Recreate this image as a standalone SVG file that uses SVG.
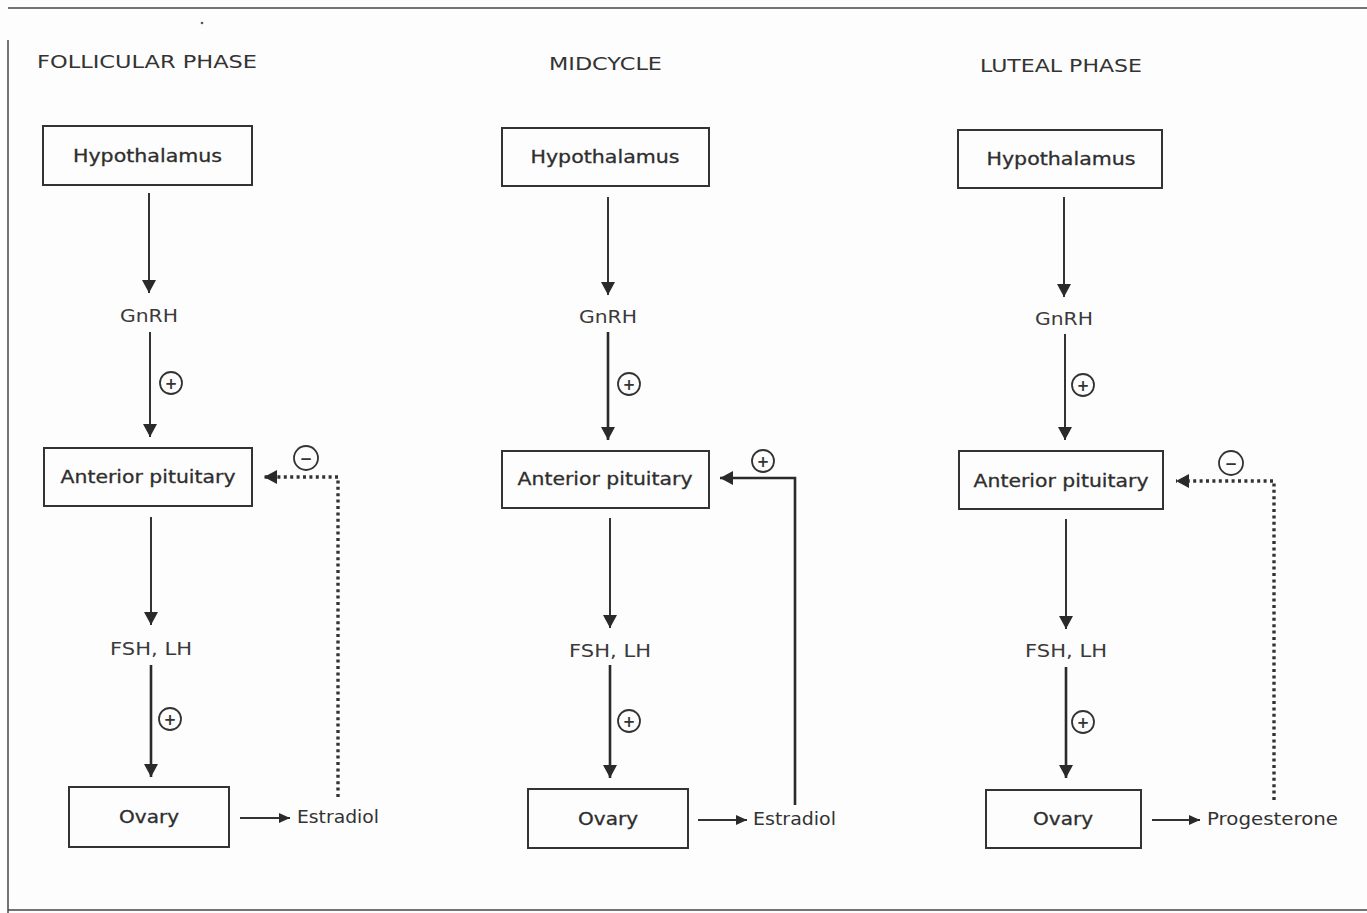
<svg xmlns="http://www.w3.org/2000/svg" width="1367" height="913" viewBox="0 0 1367 913">
<defs>
<style>
text{font-family:"DejaVu Sans","Liberation Sans",Arial,sans-serif;fill:#2e2e2e}
.hd{font-size:18px;fill:#333}
.nd{font-size:18px;text-anchor:middle;stroke:#2e2e2e;stroke-width:0.3}
.lb{font-size:18px;text-anchor:middle;fill:#3a3a3a}
.hm{font-size:18px;fill:#333}
.box{fill:none;stroke:#333;stroke-width:2}
.ln{fill:none;stroke:#333;stroke-width:2}
.lnb{fill:none;stroke:#2a2a2a;stroke-width:2.6}
.dot{fill:none;stroke:#333;stroke-width:3.4;stroke-dasharray:3 3.4}
.cir{fill:none;stroke:#333;stroke-width:1.8}
.sg{font-size:15px;text-anchor:middle;font-weight:bold;fill:#333}
.frame{fill:none;stroke:#444;stroke-width:1.5}
</style>
<marker id="ah" markerUnits="userSpaceOnUse" markerWidth="16" markerHeight="14" refX="13" refY="7" orient="auto">
<path d="M0,0 L13,7 L0,14 Z" fill="#2a2a2a"/>
</marker>
<marker id="as" markerUnits="userSpaceOnUse" markerWidth="12" markerHeight="10" refX="11" refY="5" orient="auto">
<path d="M0,0 L11,5 L0,10 Z" fill="#2a2a2a"/>
</marker>
</defs>
<rect x="0" y="0" width="1367" height="913" fill="#fdfdfd"/>
<g id="frame">
<line class="frame" x1="8" y1="8" x2="1367" y2="8"/>
<line class="frame" x1="8" y1="40" x2="8" y2="913"/>
<line class="frame" x1="8" y1="910" x2="1367" y2="910"/>
<circle cx="202" cy="23" r="1.3" fill="#555"/>
</g>
<g id="headers">
<text class="hd" x="37" y="68" textLength="220" lengthAdjust="spacingAndGlyphs">FOLLICULAR PHASE</text>
<text class="hd" x="549" y="70" textLength="113" lengthAdjust="spacingAndGlyphs">MIDCYCLE</text>
<text class="hd" x="980" y="72" textLength="162" lengthAdjust="spacingAndGlyphs">LUTEAL PHASE</text>
</g>
<g id="connectors">
<line class="ln" x1="149" y1="193" x2="149" y2="293" marker-end="url(#ah)"/>
<line class="ln" x1="150" y1="332" x2="150" y2="437" marker-end="url(#ah)"/>
<line class="ln" x1="151" y1="517" x2="151" y2="625" marker-end="url(#ah)"/>
<line class="lnb" x1="151" y1="665" x2="151" y2="777" marker-end="url(#ah)"/>
<line class="ln" x1="240" y1="818" x2="290" y2="818" marker-end="url(#as)"/>
<polyline class="dot" points="338,797 338,477 264,477" marker-end="url(#ah)"/>

<line class="ln" x1="608" y1="197" x2="608" y2="295" marker-end="url(#ah)"/>
<line class="lnb" x1="608" y1="332" x2="608" y2="440" marker-end="url(#ah)"/>
<line class="ln" x1="610" y1="518" x2="610" y2="628" marker-end="url(#ah)"/>
<line class="lnb" x1="610" y1="665" x2="610" y2="778" marker-end="url(#ah)"/>
<line class="ln" x1="698" y1="820" x2="747" y2="820" marker-end="url(#as)"/>
<polyline class="lnb" points="795,805 795,478 720,478" marker-end="url(#ah)"/>

<line class="ln" x1="1064" y1="197" x2="1064" y2="297" marker-end="url(#ah)"/>
<line class="ln" x1="1065" y1="334" x2="1065" y2="440" marker-end="url(#ah)"/>
<line class="ln" x1="1066" y1="519" x2="1066" y2="629" marker-end="url(#ah)"/>
<line class="lnb" x1="1066" y1="667" x2="1066" y2="778" marker-end="url(#ah)"/>
<line class="ln" x1="1152" y1="820" x2="1200" y2="820" marker-end="url(#as)"/>
<polyline class="dot" points="1274,800 1274,481 1176,481" marker-end="url(#ah)"/>
</g>
<g id="signs">
<circle class="cir" cx="171" cy="383" r="11"/><text class="sg" x="171" y="388.5">+</text>
<circle class="cir" cx="306" cy="458" r="12"/><text class="sg" x="306" y="463.5">−</text>
<circle class="cir" cx="170" cy="719" r="11"/><text class="sg" x="170" y="724.5">+</text>
<circle class="cir" cx="629" cy="384" r="11"/><text class="sg" x="629" y="389.5">+</text>
<circle class="cir" cx="763" cy="461" r="11"/><text class="sg" x="763" y="466.5">+</text>
<circle class="cir" cx="629" cy="721" r="11"/><text class="sg" x="629" y="726.5">+</text>
<circle class="cir" cx="1083" cy="385" r="11"/><text class="sg" x="1083" y="390.5">+</text>
<circle class="cir" cx="1231" cy="463" r="12"/><text class="sg" x="1231" y="468.5">−</text>
<circle class="cir" cx="1083" cy="722" r="11"/><text class="sg" x="1083" y="727.5">+</text>
</g>
<g id="labels">
<text class="lb" x="149" y="322" textLength="58" lengthAdjust="spacingAndGlyphs">GnRH</text>
<text class="lb" x="151" y="655" textLength="82" lengthAdjust="spacingAndGlyphs">FSH, LH</text>
<text class="hm" x="297" y="823" textLength="82" lengthAdjust="spacingAndGlyphs">Estradiol</text>
<text class="lb" x="608" y="323" textLength="58" lengthAdjust="spacingAndGlyphs">GnRH</text>
<text class="lb" x="610" y="657" textLength="82" lengthAdjust="spacingAndGlyphs">FSH, LH</text>
<text class="hm" x="753" y="825" textLength="83" lengthAdjust="spacingAndGlyphs">Estradiol</text>
<text class="lb" x="1064" y="325" textLength="58" lengthAdjust="spacingAndGlyphs">GnRH</text>
<text class="lb" x="1066" y="657" textLength="82" lengthAdjust="spacingAndGlyphs">FSH, LH</text>
<text class="hm" x="1207" y="825" textLength="131" lengthAdjust="spacingAndGlyphs">Progesterone</text>
</g>
<g id="follicular-hypothalamus"><rect class="box" x="43" y="126" width="209" height="59"/><text class="nd" x="147.5" y="162" textLength="149" lengthAdjust="spacingAndGlyphs">Hypothalamus</text></g>
<g id="follicular-pituitary"><rect class="box" x="44" y="448" width="208" height="58"/><text class="nd" x="148" y="483" textLength="175" lengthAdjust="spacingAndGlyphs">Anterior pituitary</text></g>
<g id="follicular-ovary"><rect class="box" x="69" y="787" width="160" height="60"/><text class="nd" x="149" y="823" textLength="60" lengthAdjust="spacingAndGlyphs">Ovary</text></g>
<g id="midcycle-hypothalamus"><rect class="box" x="502" y="128" width="207" height="58"/><text class="nd" x="605" y="163" textLength="149" lengthAdjust="spacingAndGlyphs">Hypothalamus</text></g>
<g id="midcycle-pituitary"><rect class="box" x="502" y="451" width="207" height="57"/><text class="nd" x="605" y="485" textLength="175" lengthAdjust="spacingAndGlyphs">Anterior pituitary</text></g>
<g id="midcycle-ovary"><rect class="box" x="528" y="789" width="160" height="59"/><text class="nd" x="608" y="825" textLength="60" lengthAdjust="spacingAndGlyphs">Ovary</text></g>
<g id="luteal-hypothalamus"><rect class="box" x="958" y="130" width="204" height="58"/><text class="nd" x="1061" y="165" textLength="149" lengthAdjust="spacingAndGlyphs">Hypothalamus</text></g>
<g id="luteal-pituitary"><rect class="box" x="959" y="451" width="204" height="58"/><text class="nd" x="1061" y="487" textLength="175" lengthAdjust="spacingAndGlyphs">Anterior pituitary</text></g>
<g id="luteal-ovary"><rect class="box" x="986" y="790" width="155" height="58"/><text class="nd" x="1063" y="825" textLength="60" lengthAdjust="spacingAndGlyphs">Ovary</text></g>
</svg>
